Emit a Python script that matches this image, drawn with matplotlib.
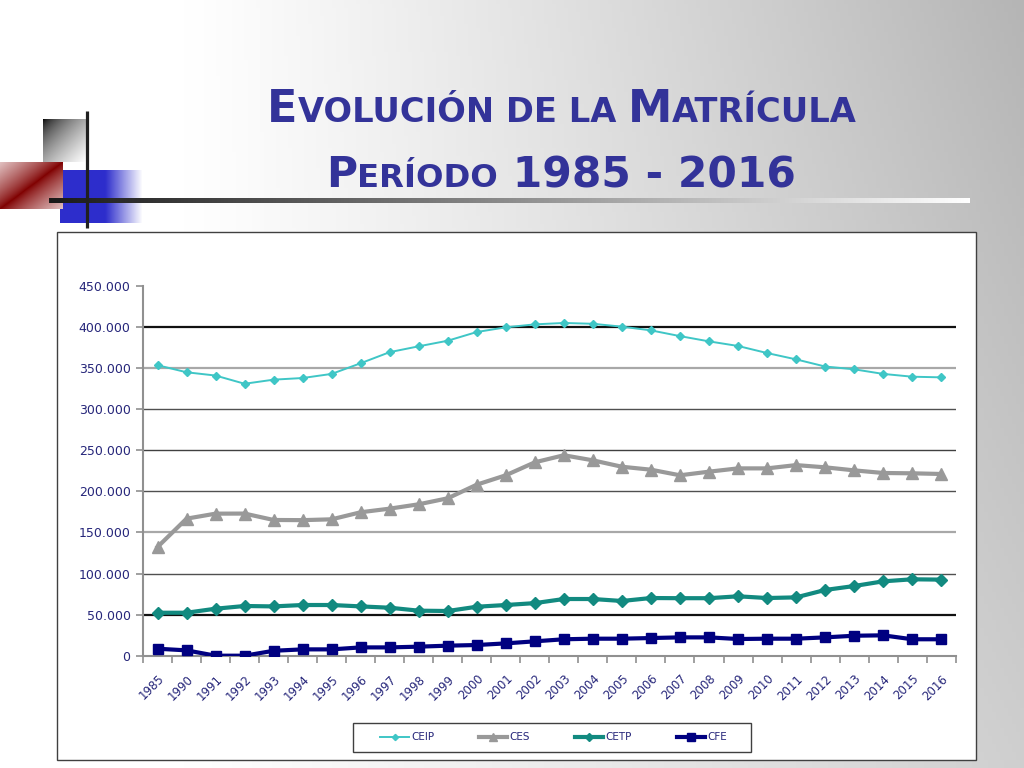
import numpy as np
import matplotlib
matplotlib.use("Agg")
import matplotlib.pyplot as plt
from matplotlib.patches import Rectangle
from matplotlib.ticker import FixedLocator, FuncFormatter

# data (thousands of students)
years = ["1985", "1990", "1991", "1992", "1993", "1994", "1995", "1996", "1997", "1998",
         "1999", "2000", "2001", "2002", "2003", "2004", "2005", "2006", "2007", "2008",
         "2009", "2010", "2011", "2012", "2013", "2014", "2015", "2016"]

ceip = [353.6, 345.0, 341.0, 331.0, 336.0, 338.0, 343.0, 356.0, 369.5, 376.6,
        383.4, 394.0, 399.7, 403.3, 405.0, 404.0, 400.5, 396.0, 389.0, 382.6,
        377.0, 368.4, 360.7, 352.0, 348.6, 343.0, 339.6, 338.8]
ces = [132.3, 166.8, 172.9, 173.0, 165.2, 165.0, 166.0, 174.6, 179.0, 184.3,
       191.6, 208.2, 219.6, 235.4, 244.0, 237.8, 230.0, 226.4, 219.6, 224.0,
       228.0, 228.0, 232.0, 229.3, 225.6, 222.4, 222.0, 221.2]
cetp = [52.3, 52.3, 57.2, 60.5, 60.0, 61.7, 61.7, 60.0, 58.4, 54.8,
        54.4, 59.6, 61.7, 64.0, 69.0, 69.0, 66.6, 70.2, 70.0, 70.0,
        72.3, 70.2, 71.0, 80.0, 84.8, 90.5, 93.0, 92.6]
cfe = [8.5, 6.5, 0.0, 0.0, 6.0, 7.7, 7.7, 10.1, 10.1, 11.0,
       12.2, 13.0, 15.0, 17.5, 20.0, 20.7, 20.7, 21.5, 22.3, 22.3,
       20.3, 20.7, 20.7, 22.3, 24.3, 24.8, 20.0, 20.0]

series_names = ["CEIP", "CES", "CETP", "CFE"]
y_ticks = [0, 50000, 100000, 150000, 200000, 250000, 300000, 350000, 400000, 450000]

W, H = 1024, 768
NAVY_TXT = "#26267a"
TITLE_COL = "#333399"

fig = plt.figure(figsize=(W / 100, H / 100), dpi=100)

# ---- slide background and decorations, drawn in pixel coordinates
bg = fig.add_axes([0, 0, 1, 1])
bg.axis("off")

xx, yy = np.meshgrid(np.linspace(0, 1, 256), np.linspace(0, 1, 192))
s = np.clip((xx - 0.18) / 0.82, 0, 1) ** 1.1 * (1 - 0.35 * yy)
grey = 1 - 0.29 * s
bg.imshow(np.dstack([grey, grey, grey]), extent=(0, W, H, 0), aspect="auto", zorder=0)

# grey square, black corner fading out
u, v = np.meshgrid(np.linspace(0, 1, 60), np.linspace(0, 1, 60))
g = np.clip((u + v) / 2, 0, 1) ** 0.6
bg.imshow(np.dstack([g, g, g]), extent=(43, 86, 162, 119), aspect="auto", zorder=2)

# dark red square with diagonal band
d = np.abs(u + v - 1) ** 0.8
dark = np.array([0.5, 0.0, 0.0])
light = np.array([0.88, 0.75, 0.75])
red = dark[None, None, :] * (1 - d[..., None]) + light[None, None, :] * d[..., None]
bg.imshow(red, extent=(0, 63, 209, 162), aspect="auto", zorder=3)

# blue square fading to the right
bu = np.linspace(0, 1, 100)
alpha = np.clip(1 - (bu - 0.55) / 0.45, 0, 1)
blue = np.zeros((2, 100, 4))
blue[..., 0] = 0.18
blue[..., 1] = 0.18
blue[..., 2] = 0.8
blue[..., 3] = alpha[None, :]
bg.imshow(blue, extent=(60, 143, 223, 170), aspect="auto", zorder=2)

# horizontal rule, black to white
hl = np.linspace(0.1, 1.0, 300)
bg.imshow(np.dstack([hl, hl, hl]).repeat(2, axis=0),
          extent=(49, 970, 203, 198), aspect="auto", zorder=4)
bg.plot([87, 87], [111, 228], color="#202020", lw=2.3, zorder=5, solid_capstyle="butt")

# chart frame and legend frame
bg.add_patch(Rectangle((57, 232), 919, 528, facecolor="white", edgecolor="#404040",
                       lw=1.0, zorder=6))
bg.add_patch(Rectangle((352.5, 723), 398, 29, facecolor="white", edgecolor="#404040",
                       lw=1.0, zorder=7))

bg.set_xlim(0, W)
bg.set_ylim(H, 0)


# ---- small caps title
def small_caps_line(pieces, cx, base_y):
    rend = fig.canvas.get_renderer()
    texts = []
    total = 0
    for txt, size in pieces:
        t = fig.text(0, 0, txt, fontsize=size, fontweight="bold", color=TITLE_COL,
                     family="DejaVu Sans", va="baseline", ha="left")
        w = t.get_window_extent(renderer=rend).width
        texts.append((t, w))
        total += w
    x = cx - total / 2
    for t, w in texts:
        t.set_position((x / W, 1 - base_y / H))
        x += w


small_caps_line([("E", 32), ("VOLUCIÓN DE LA ", 24.3), ("M", 32), ("ATRÍCULA", 24.3)],
                562, 122)
small_caps_line([("P", 30.5), ("ERÍODO", 23.2), (" 1985 - 2016", 30.5)], 561, 187)

# ---- line chart
left, right, top, bottom = 143, 955.7, 286, 655.7
ax = fig.add_axes([left / W, 1 - bottom / H, (right - left) / W, (bottom - top) / H])
ax.set_facecolor("none")

x = np.arange(len(years))
ax.plot(x, np.array(ceip) * 1000, color="#3fc6c6", lw=1.4, marker="D", ms=4.5,
        label=series_names[0], zorder=5)
ax.plot(x, np.array(ces) * 1000, color="#999999", lw=3, marker="^", ms=8,
        label=series_names[1], zorder=5)
ax.plot(x, np.array(cetp) * 1000, color="#128a80", lw=3, marker="D", ms=6,
        label=series_names[2], zorder=5)
ax.plot(x, np.array(cfe) * 1000, color="#000080", lw=3, marker="s", ms=7.5,
        label=series_names[3], zorder=5)

ax.set_xlim(-0.5, len(years) - 0.5)
ax.set_ylim(0, 450000)

# gridlines from 50.000 to 400.000 (none at the top)
grid_style = {50000: ("#111111", 1.6), 100000: ("#505050", 1.0), 150000: ("#a8a8a8", 1.6),
              200000: ("#505050", 1.0), 250000: ("#404040", 1.0), 300000: ("#505050", 1.0),
              350000: ("#a8a8a8", 1.6), 400000: ("#111111", 1.6)}
for val in y_ticks[1:-1]:
    c, lw = grid_style[val]
    ax.axhline(val, color=c, lw=lw, zorder=1)

for sp in ["top", "right"]:
    ax.spines[sp].set_visible(False)
for sp in ["left", "bottom"]:
    ax.spines[sp].set_color("#909090")
    ax.spines[sp].set_linewidth(1.5)

ax.yaxis.set_major_locator(FixedLocator(y_ticks))
ax.yaxis.set_major_formatter(FuncFormatter(lambda v, p: f"{int(v):,}".replace(",", ".")))
ax.tick_params(axis="y", direction="out", length=5, width=1.2, color="#909090",
               labelsize=9, labelcolor=NAVY_TXT, pad=4)

ax.set_xticks(x)
ax.set_xticklabels(years, rotation=45, ha="right", va="top", rotation_mode="anchor")
ax.set_xticks(np.arange(len(years) + 1) - 0.5, minor=True)
ax.tick_params(axis="x", which="major", length=0, labelsize=8.5, labelcolor=NAVY_TXT, pad=12)
ax.tick_params(axis="x", which="minor", direction="out", length=5, width=1.2, color="#909090")

leg = fig.legend(loc="center", ncol=4, bbox_to_anchor=(554 / W, 1 - 737.5 / H),
                 fontsize=7.5, frameon=False, handlelength=2.7, handletextpad=0.25,
                 columnspacing=4.3, markerscale=0.7)
leg.set_zorder(10)
for t in leg.get_texts():
    t.set_color(NAVY_TXT)

fig.savefig("out.png", dpi=100)
